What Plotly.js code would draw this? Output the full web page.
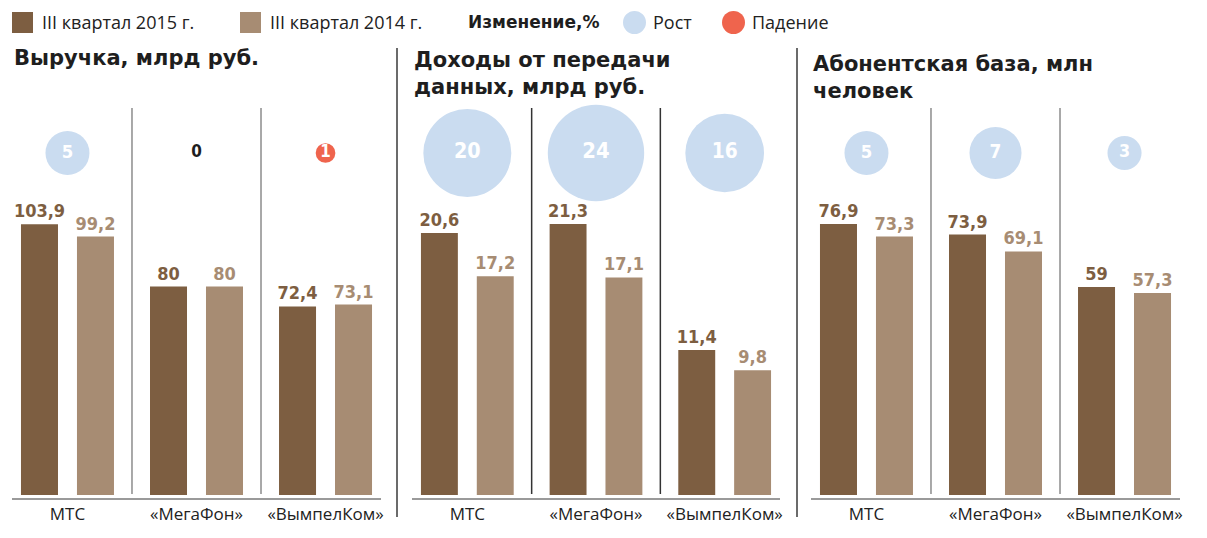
<!DOCTYPE html>
<html>
<head>
<meta charset="utf-8">
<script src="https://cdn.plot.ly/plotly-3.0.1.min.js"></script>
<style>
  html, body { margin: 0; padding: 0; background: #fff; }
  #grafico { width: 1207px; height: 538px; }
</style>
</head>
<body>
<div id="grafico"></div>
<script>
// Данные: три оператора, III квартал 2015 и 2014
const operators = ['МТС', '«МегаФон»', '«ВымпелКом»'];

const revenue2015 = [103.9, 80, 72.4];
const revenue2014 = [99.2, 80, 73.1];
const revenueChange = [5, 0, -1];

const dataIncome2015 = [20.6, 21.3, 11.4];
const dataIncome2014 = [17.2, 17.1, 9.8];
const dataIncomeChange = [20, 24, 16];

const subscribers2015 = [76.9, 73.9, 59];
const subscribers2014 = [73.3, 69.1, 57.3];
const subscribersChange = [5, 7, 3];

const panelTitles = [
    'Выручка, млрд руб.',
    'Доходы от передачи<br>данных, млрд руб.',
    'Абонентская база, млн<br>человек'
];

const legendLabels = ['III квартал 2015 г.', 'III квартал 2014 г.', 'Изменение,%', 'Рост', 'Падение'];

function graficar() {
    const W = 1207, H = 538;
    const px = x => x / W;           // пиксели -> доля ширины
    const py = y => (H - y) / H;     // пиксели сверху -> доля высоты

    const dark = '#7d5e41';
    const light = '#a78c73';
    const grow = '#cadcf0';
    const fall = '#ef644d';
    const ink = '#1e1e1e';

    const fmt = v => String(v).replace('.', ',');

    const panels = [
        {a: revenue2015, b: revenue2014, ch: revenueChange, pxPerUnit: 2.605, left: 12, right: 381, sep: '#8c8c8c', titleTop: 44},
        {a: dataIncome2015, b: dataIncome2014, ch: dataIncomeChange, pxPerUnit: 12.72, left: 412, right: 780, sep: '#333333', titleTop: 46},
        {a: subscribers2015, b: subscribers2014, ch: subscribersChange, pxPerUnit: 3.525, left: 811, right: 1180, sep: '#8c8c8c', titleTop: 50}
    ];

    const plotTop = 100, axisY = 498, baseY = 495;
    const traces = [];
    const layout = {
        width: W, height: H,
        margin: {l: 0, r: 0, t: 0, b: 0},
        paper_bgcolor: '#fff', plot_bgcolor: 'rgba(0,0,0,0)',
        showlegend: false,
        barmode: 'group',
        bargap: 0.132,
        bargroupgap: 0.339,
        font: {family: 'Open Sans, sans-serif', color: ink},
        shapes: [],
        annotations: []
    };

    panels.forEach((p, k) => {
        const n = k + 1;
        const xName = n === 1 ? 'x' : 'x' + n;
        const yName = n === 1 ? 'y' : 'y' + n;
        const ybName = 'y' + (n + 3);

        // столбцы
        [[p.a, dark, '2015'], [p.b, light, '2014']].forEach(([vals, color, nm]) => {
            traces.push({
                type: 'bar', name: nm,
                x: operators, y: vals,
                xaxis: xName, yaxis: yName,
                marker: {color: color, line: {width: 0}},
                text: vals.map(fmt),
                textposition: 'outside',
                constraintext: 'none',
                cliponaxis: false,
                textfont: {family: 'DejaVu Sans Condensed, DejaVu Sans', size: 18, color: color, weight: 700},
                hoverinfo: 'x+y'
            });
        });

        // пузыри изменения
        traces.push({
            type: 'scatter', mode: 'markers+text',
            x: operators, y: operators.map(() => 0),
            xaxis: xName, yaxis: ybName,
            marker: {
                size: p.ch.map(v => Math.abs(v)),
                sizemode: 'area',
                sizeref: 5 / (2 * 22 * 22),
                color: p.ch.map(v => v < 0 ? fall : grow),
                opacity: 1,
                line: {width: 0}
            },
            text: p.ch.map(v => String(Math.abs(v))),
            textposition: 'middle center',
            textfont: {
                family: 'DejaVu Sans Condensed, DejaVu Sans', weight: 700,
                size: p.ch.map(v => v === 0 ? 17 : 15.5 + 1.3 * Math.sqrt(Math.abs(v))),
                color: p.ch.map(v => v === 0 ? ink : '#ffffff')
            },
            cliponaxis: false,
            hoverinfo: 'skip'
        });

        layout[n === 1 ? 'xaxis' : 'xaxis' + n] = {
            domain: [px(p.left), px(p.right)],
            anchor: yName,
            type: 'category',
            range: [-0.43, 2.43],
            showline: true, linecolor: '#9a9a9a', linewidth: 2,
            ticks: '', showgrid: false, zeroline: false,
            tickfont: {family: 'Open Sans, sans-serif', size: 17, color: '#222'},
            fixedrange: true
        };
        const span = (baseY - plotTop) / p.pxPerUnit;
        const below = (axisY - baseY) / p.pxPerUnit;
        layout[n === 1 ? 'yaxis' : 'yaxis' + n] = {
            domain: [py(axisY), py(plotTop)],
            anchor: xName,
            range: [-below, span],
            visible: false, showgrid: false, zeroline: false,
            fixedrange: true
        };
        layout['yaxis' + (n + 3)] = {
            domain: [py(206), py(100)],
            anchor: xName,
            range: [-1, 1],
            visible: false, showgrid: false, zeroline: false,
            fixedrange: true
        };

        // разделители между операторами
        [0.5, 1.5].forEach(xv => {
            layout.shapes.push({
                type: 'line', xref: xName, yref: 'paper',
                x0: xv, x1: xv, y0: py(494), y1: py(108),
                line: {color: p.sep, width: 1.5}, layer: 'below'
            });
        });

        // заголовок панели
        layout.annotations.push({
            xref: 'paper', yref: 'paper',
            x: px(p.left), y: py(p.titleTop),
            xanchor: 'left', yanchor: 'top', align: 'left',
            text: '<b>' + panelTitles[k] + '</b>',
            showarrow: false,
            font: {family: 'DejaVu Sans, sans-serif', size: 21, color: ink}
        });
    });

    // разделители панелей
    [397, 797].forEach(x => {
        layout.shapes.push({
            type: 'line', xref: 'paper', yref: 'paper',
            x0: px(x), x1: px(x), y0: py(517), y1: py(48),
            line: {color: '#3a3a3a', width: 1.5}
        });
    });

    // легенда
    const ly = 22.5;
    layout.shapes.push(
        {type: 'rect', xref: 'paper', yref: 'paper', x0: px(12), x1: px(33), y0: py(33), y1: py(12), fillcolor: dark, line: {width: 0}},
        {type: 'rect', xref: 'paper', yref: 'paper', x0: px(240), x1: px(261), y0: py(33), y1: py(12), fillcolor: light, line: {width: 0}},
        {type: 'circle', xref: 'paper', yref: 'paper', x0: px(623), x1: px(646), y0: py(34), y1: py(11), fillcolor: grow, line: {width: 0}},
        {type: 'circle', xref: 'paper', yref: 'paper', x0: px(722), x1: px(745), y0: py(34), y1: py(11), fillcolor: fall, line: {width: 0}}
    );
    const legendPos = [40, 268, 466, 651, 750];
    legendLabels.forEach((t, i) => {
        layout.annotations.push({
            xref: 'paper', yref: 'paper',
            x: px(legendPos[i]), y: py(ly),
            xanchor: 'left', yanchor: 'middle',
            text: i === 2 ? '<b>' + t + '</b>' : t,
            showarrow: false,
            font: i === 2
                ? {family: 'DejaVu Sans, sans-serif', size: 17, color: ink}
                : {family: 'Open Sans, sans-serif', size: 18, color: '#222'}
        });
    });

    Plotly.newPlot('grafico', traces, layout, {displayModeBar: false, staticPlot: true});
}

window.onload = graficar;
</script>
</body>
</html>
